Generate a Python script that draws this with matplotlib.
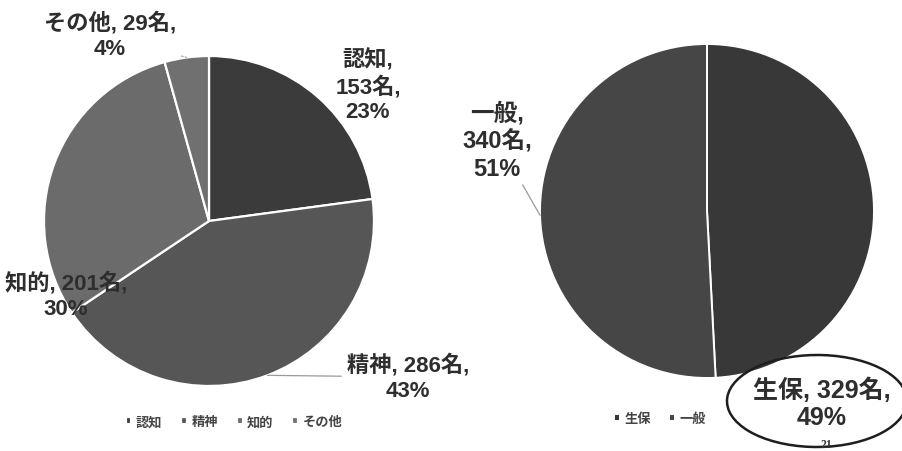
import matplotlib
matplotlib.use("Agg")
import matplotlib.pyplot as plt
from matplotlib.patches import Ellipse
import numpy as np

plt.rcParams['font.family'] = ['Liberation Sans', 'Noto Sans CJK JP', 'DejaVu Sans']

# Disability category breakdown
cat_labels = ['認知', '精神', '知的', 'その他']
cat_counts = [153, 286, 201, 29]
cat_pcts = [23, 43, 30, 4]
cat_colors = ['#3b3b3b', '#565656', '#6b6b6b', '#707070']

# Welfare status breakdown
wel_labels = ['生保', '一般']
wel_counts = [329, 340]
wel_pcts = [49, 51]
wel_colors = ['#383838', '#464646']

W, H = 902, 452
fig = plt.figure(figsize=(W / 100, H / 100), dpi=100)
fig.patch.set_facecolor('white')


def pie_axes(cx, cy, r):
    return fig.add_axes([(cx - r) / W, (H - cy - r) / H, 2 * r / W, 2 * r / H])


def mid_point(counts, i, radius=1.0):
    total = float(sum(counts))
    start = 90 - 360 * sum(counts[:i]) / total
    end = start - 360 * counts[i] / total
    a = np.deg2rad((start + end) / 2)
    return radius * np.cos(a), radius * np.sin(a)


label_kw = dict(fontsize=16, fontweight='bold', color='#2e2e2e',
                ha='center', va='center', linespacing=1.25,
                textcoords='figure pixels', xycoords='data')
leader_solid = dict(arrowstyle='-', color='#9a9a9a', lw=0.9, shrinkA=2, shrinkB=0)
leader_dot = dict(arrowstyle='-', color='#b0b0b0', lw=0.9, ls=(0, (1.5, 1.5)),
                  shrinkA=2, shrinkB=0)

# ---- left pie: categories ----
ax1 = pie_axes(209, 222, 165)
w1, _ = ax1.pie(cat_counts, colors=cat_colors, startangle=90, counterclock=False,
                wedgeprops=dict(edgecolor='white', linewidth=1.6))
ax1.set_xlim(-1, 1)
ax1.set_ylim(-1, 1)
ax1.axis('off')

cat_text_pos = [(368, H - 86), (408, H - 378), (66, H - 296), (110, H - 36)]
cat_leaders = [None, leader_solid, None, leader_dot]
cat_text = [
    f'{cat_labels[0]},\n{cat_counts[0]}名,\n{cat_pcts[0]}%',
    f'{cat_labels[1]}, {cat_counts[1]}名,\n{cat_pcts[1]}%',
    f'{cat_labels[2]}, {cat_counts[2]}名,\n{cat_pcts[2]}%',
    f'{cat_labels[3]}, {cat_counts[3]}名,\n{cat_pcts[3]}%',
]
for i, txt in enumerate(cat_text):
    kw = dict(label_kw)
    if cat_leaders[i] is not None:
        kw['arrowprops'] = cat_leaders[i]
    ax1.annotate(txt, xy=mid_point(cat_counts, i), xytext=cat_text_pos[i], **kw)

leg1 = ax1.legend(w1, cat_labels, loc='center', bbox_to_anchor=(234 / W, 1 - 423 / H),
                  bbox_transform=fig.transFigure, ncol=4, frameon=False,
                  prop=dict(size=9.5, weight='bold'), handlelength=0.45,
                  handleheight=0.45, handletextpad=0.35, columnspacing=1.4)
for t in leg1.get_texts():
    t.set_color('#444444')

# ---- right pie: welfare status ----
ax2 = pie_axes(707, 212, 167)
w2, _ = ax2.pie(wel_counts, colors=wel_colors, startangle=90, counterclock=False,
                wedgeprops=dict(edgecolor='white', linewidth=1.4))
ax2.set_xlim(-1, 1)
ax2.set_ylim(-1, 1)
ax2.axis('off')

wel_text_pos = [(822, H - 404), (497, H - 141)]
wel_sizes = [18, 17]
wel_leaders = [None, leader_solid]
wel_text = [
    f'{wel_labels[0]}, {wel_counts[0]}名,\n{wel_pcts[0]}%',
    f'{wel_labels[1]},\n{wel_counts[1]}名,\n{wel_pcts[1]}%',
]
for i, txt in enumerate(wel_text):
    kw = dict(label_kw)
    kw['fontsize'] = wel_sizes[i]
    if i == 0:
        kw['linespacing'] = 1.15
    if wel_leaders[i] is not None:
        kw['arrowprops'] = wel_leaders[i]
    ax2.annotate(txt, xy=mid_point(wel_counts, i), xytext=wel_text_pos[i], **kw)

leg2 = ax2.legend(w2, wel_labels, loc='center', bbox_to_anchor=(660 / W, 1 - 420 / H),
                  bbox_transform=fig.transFigure, ncol=2, frameon=False,
                  prop=dict(size=9.5, weight='bold'), handlelength=0.45,
                  handleheight=0.45, handletextpad=0.35, columnspacing=1.4)
for t in leg2.get_texts():
    t.set_color('#444444')

# hand-drawn circle around the 生保 label
fig.add_artist(Ellipse((817 / W, 1 - 402 / H), width=180 / W, height=92 / H, angle=-4,
                       transform=fig.transFigure, fill=False, ec='#1e1e1e', lw=1.8))

# page number
fig.text(826 / W, 1 - 445 / H, '21', fontsize=8.5, fontweight='bold',
         family='Liberation Serif', color='#333333', ha='center', va='center')

fig.savefig('out.png', dpi=100, facecolor='white')
